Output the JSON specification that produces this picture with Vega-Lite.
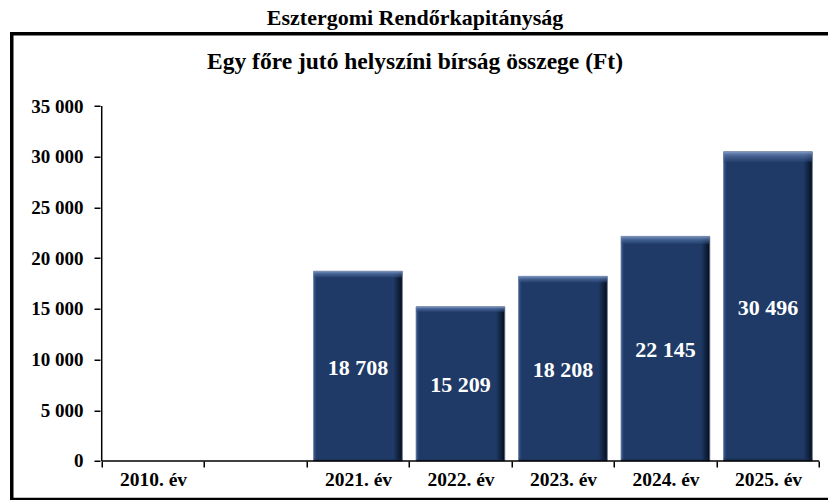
{
  "$schema": "https://vega.github.io/schema/vega-lite/v6.json",
  "autosize": {"type": "none"},
  "padding": {"left": 11.75, "top": 33.75, "right": 0, "bottom": 0},
  "width": 830,
  "height": 465.75,
  "background": "white",
  "title": {
    "text": "Esztergomi Rendőrkapitányság",
    "subtitle": "Egy főre jutó helyszíni bírság összege (Ft)",
    "font": "Liberation Serif",
    "fontSize": 22,
    "fontWeight": "bold",
    "color": "black",
    "subtitleFont": "Liberation Serif",
    "subtitleFontSize": 23.5,
    "subtitleFontWeight": "bold",
    "subtitleColor": "black",
    "subtitlePadding": 20,
    "anchor": "middle",
    "frame": "group",
    "offset": -41,
    "dx": -11.75
  },
  "config": {
    "locale": {"number": {"decimal": ",", "thousands": " ", "grouping": [3], "currency": ["", " Ft"]}},
    "view": {"stroke": "black", "strokeWidth": 3.5},
    "font": "Liberation Serif"
  },
  "datasets": {
    "bars": [
      {"ev": "2021. év", "value": 18708},
      {"ev": "2022. év", "value": 15209},
      {"ev": "2023. év", "value": 18208},
      {"ev": "2024. év", "value": 22145},
      {"ev": "2025. év", "value": 30496}
    ],
    "axisline": [{"start": "2010. év", "end": "2025. év", "low": 0, "high": 35000}]
  },
  "resolve": {"scale": {"y": "independent"}, "axis": {"y": "independent"}},
  "layer": [
    {
      "data": {"name": "bars"},
      "mark": {
        "type": "bar",
        "width": {"band": 0.865},
        "stroke": "#5a6f90",
        "strokeWidth": 0.8,
        "fill": {"gradient": "linear", "x1": 0, "x2": 1, "y1": 0, "y2": 0,
          "stops": [
            {"offset": 0, "color": "#3a5a90"},
            {"offset": 0.035, "color": "#1f3a66"},
            {"offset": 0.9, "color": "#1f3a66"},
            {"offset": 0.955, "color": "#112240"},
            {"offset": 1, "color": "#050b16"}
          ]}
      },
      "encoding": {
        "x": {
          "field": "ev", "type": "nominal",
          "scale": {"domain": ["2010. év", " ", "2021. év", "2022. év", "2023. év", "2024. év", "2025. év"],
                    "paddingInner": 0, "paddingOuter": 0.5488, "align": 0.7996},
          "axis": {
            "orient": "bottom", "offset": -38.5, "domain": false, "tickBand": "extent",
            "tickSize": 6, "tickColor": "black", "tickWidth": 1.5,
            "labelFont": "Liberation Serif", "labelFontSize": 19.5, "labelFontWeight": "bold",
            "labelColor": "black", "labelPadding": 3, "labelAngle": 0, "title": null
          }
        },
        "y": {
          "field": "value", "type": "quantitative",
          "scale": {"domain": [-3799, 42129], "nice": false, "zero": false},
          "axis": {
            "offset": -88.25, "domain": false, "grid": false,
            "values": [0, 5000, 10000, 15000, 20000, 25000, 30000, 35000],
            "format": ",d", "tickSize": 6, "tickColor": "black", "tickWidth": 1.5,
            "labelFont": "Liberation Serif", "labelFontSize": 19, "labelFontWeight": "bold",
            "labelColor": "black", "labelPadding": 11, "title": null
          }
        }
      }
    },
    {
      "data": {"name": "bars"},
      "mark": {
        "type": "bar",
        "width": {"band": 0.865},
        "fill": {"gradient": "linear", "x1": 0, "x2": 0, "y1": 0, "y2": 1,
          "stops": [
            {"offset": 0, "color": "rgba(140,165,205,0.9)"},
            {"offset": 0.01, "color": "rgba(95,125,175,0.75)"},
            {"offset": 0.03, "color": "rgba(55,85,135,0.45)"},
            {"offset": 0.036, "color": "rgba(31,58,102,0)"},
            {"offset": 0.985, "color": "rgba(31,58,102,0)"},
            {"offset": 1, "color": "rgba(10,20,40,0.6)"}
          ]}
      },
      "encoding": {
        "x": {"field": "ev", "type": "nominal"},
        "y": {"field": "value", "type": "quantitative",
              "scale": {"domain": [-3799, 42129], "nice": false, "zero": false}, "axis": null}
      }
    },
    {
      "data": {"name": "bars"},
      "mark": {"type": "text", "color": "white", "font": "Liberation Serif", "fontSize": 22, "fontWeight": "bold", "baseline": "middle", "dy": 1.5},
      "encoding": {
        "x": {"field": "ev", "type": "nominal"},
        "y": {"field": "value", "type": "quantitative",
              "scale": {"domain": [-7598, 84258], "nice": false, "zero": false}, "axis": null},
        "text": {"field": "value", "type": "quantitative", "format": ",d"}
      }
    },
    {
      "data": {"name": "axisline"},
      "mark": {"type": "rule", "color": "black", "strokeWidth": 1.5},
      "encoding": {
        "x": {"field": "start", "type": "nominal", "bandPosition": 0},
        "y": {"field": "low", "type": "quantitative",
              "scale": {"domain": [-3799, 42129], "nice": false, "zero": false}, "axis": null},
        "y2": {"field": "high"}
      }
    },
    {
      "data": {"name": "axisline"},
      "mark": {"type": "rule", "color": "black", "strokeWidth": 1.5},
      "encoding": {
        "x": {"field": "start", "type": "nominal", "bandPosition": 0},
        "x2": {"field": "end", "bandPosition": 1},
        "y": {"field": "low", "type": "quantitative",
              "scale": {"domain": [-3799, 42129], "nice": false, "zero": false}, "axis": null}
      }
    }
  ]
}
